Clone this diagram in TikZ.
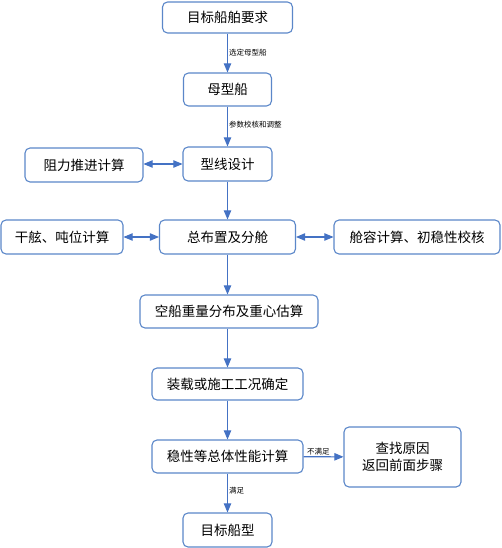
\documentclass[tikz,border=0pt]{standalone}
\usepackage{fontspec}
\setmainfont{Noto Sans CJK SC}
\usetikzlibrary{arrows}
\usetikzlibrary{positioning}
\definecolor{boxline}{HTML}{5B87C9}
\definecolor{arrowline}{HTML}{4472C4}
\tikzset{box/.style = {draw=boxline, line width=1.1pt, rounded corners=5pt, fill=white,
                       inner sep=0, align=center, font=\fontsize{13.5}{17}\selectfont}}
\tikzset{link/.style = {draw=arrowline, line width=1.1pt, -triangle 45}}
\tikzset{dlink/.style = {draw=arrowline, line width=1.1pt, triangle 45-triangle 45}}
\tikzset{tag/.style = {font=\fontsize{7.5}{9}\selectfont, inner sep=1pt}}

\begin{document}
\begin{tikzpicture}[x=1pt, y=-1pt]
      \useasboundingbox (0, 0) rectangle (501, 548);

      \node [box, minimum width=130, minimum height=31] (req) at (227.5, 17.5) {目标船舶要求};
      \node [box, minimum width=88, minimum height=33] (parent) at (227.5, 89.5) {母型船};
      \node [box, minimum width=89, minimum height=34] (lines) at (227.5, 164) {型线设计};
      \node [box, minimum width=118, minimum height=34] (resist) at (84, 165) {阻力推进计算};
      \node [box, minimum width=136, minimum height=34] (layout) at (227.5, 237) {总布置及分舱};
      \node [box, minimum width=122, minimum height=34] (freeb) at (62, 237) {干舷、吨位计算};
      \node [box, minimum width=166, minimum height=34] (capac) at (417, 237) {舱容计算、初稳性校核};
      \node [box, minimum width=178, minimum height=33] (weight) at (229, 311.5) {空船重量分布及重心估算};
      \node [box, minimum width=151, minimum height=32] (load) at (227.5, 384) {装载或施工工况确定};
      \node [box, minimum width=151, minimum height=33] (stab) at (227.5, 456.5) {稳性等总体性能计算};
      \node [box, minimum width=117, minimum height=60] (back) at (402.5, 457) {查找原因\\返回前面步骤};
      \node [box, minimum width=89, minimum height=34] (ship) at (227.5, 530) {目标船型};

      \draw [link] (req) -- (parent) node [tag, pos=0.5, right] {选定母型船};
      \draw [link] (parent) -- (lines) node [tag, pos=0.45, right] {参数校核和调整};
      \draw [dlink] (resist.east |- lines) -- (lines);
      \draw [link] (lines) -- (layout);
      \draw [dlink] (freeb) -- (layout);
      \draw [dlink] (layout) -- (capac);
      \draw [link] (layout) -- (layout |- weight.north);
      \draw [link] (weight.south -| load) -- (load);
      \draw [link] (load) -- (stab);
      \draw [link] (stab) -- (back) node [tag, pos=0.1, above right, xshift=-2pt] {不满足};
      \draw [link] (stab) -- (ship) node [tag, pos=0.45, right] {满足};
\end{tikzpicture}
\end{document}
